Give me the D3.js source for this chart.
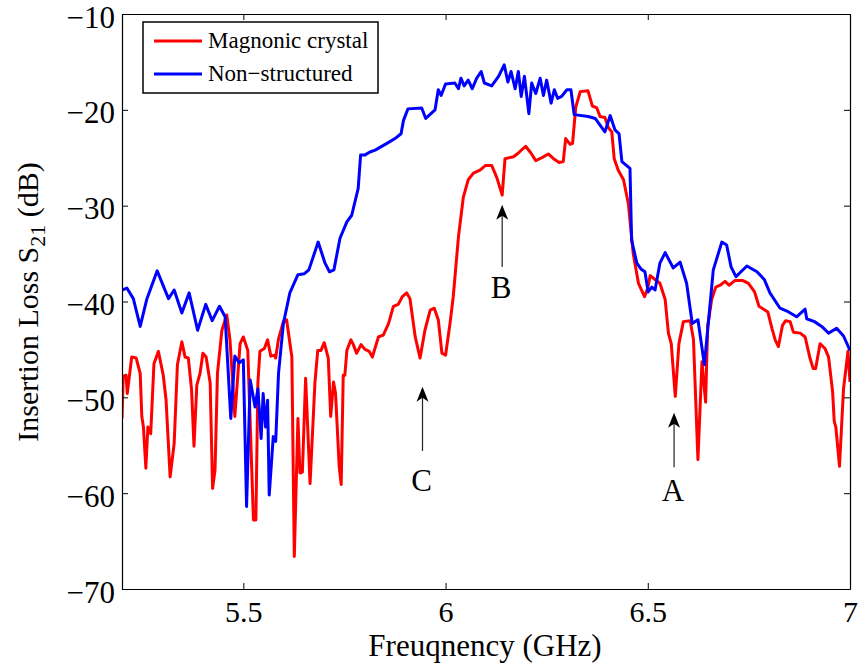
<!DOCTYPE html>
<html>
<head>
    <meta charset="utf-8">
    <title>Insertion Loss</title>
    <script src="https://d3js.org/d3.v7.min.js"></script>
    <style>
        body { margin: 0; background: #fff; }
        svg { display: block; font-family: "Liberation Serif", "Times New Roman", serif; }
    </style>
</head>
<body>
<div id="chart"></div>
<script type="text/javascript">
    // data: [frequency GHz, S21 dB]
    let magnonic = [
        [5.200,-52.2],[5.203,-47.8],[5.210,-47.7],[5.213,-49.6],[5.224,-45.8],[5.235,-45.9],[5.245,-47.5],[5.249,-52.0],
        [5.253,-53.1],[5.259,-57.4],[5.264,-53.1],[5.271,-53.8],[5.279,-46.5],[5.290,-45.2],[5.302,-47.7],[5.309,-50.3],
        [5.319,-58.3],[5.329,-54.8],[5.337,-46.6],[5.348,-44.2],[5.356,-45.8],[5.364,-45.9],[5.372,-49.2],[5.378,-55.1],
        [5.385,-48.7],[5.393,-47.5],[5.400,-45.4],[5.408,-45.8],[5.418,-48.5],[5.424,-59.5],[5.430,-57.6],[5.436,-47.5],
        [5.447,-43.0],[5.459,-41.4],[5.467,-44.0],[5.479,-52.0],[5.492,-44.4],[5.500,-43.7],[5.511,-45.1],[5.517,-52.7],
        [5.525,-62.8],[5.531,-62.8],[5.536,-48.5],[5.541,-45.2],[5.552,-44.9],[5.560,-44.0],[5.568,-45.7],[5.577,-45.6],
        [5.580,-45.9],[5.587,-43.9],[5.599,-42.1],[5.607,-41.9],[5.620,-45.8],[5.626,-66.6],[5.635,-52.2],[5.640,-57.9],
        [5.646,-57.8],[5.654,-48.0],[5.665,-59.0],[5.677,-48.5],[5.684,-45.1],[5.692,-45.1],[5.700,-44.3],[5.710,-45.9],
        [5.716,-52.0],[5.723,-48.4],[5.728,-49.6],[5.737,-57.2],[5.742,-59.1],[5.747,-47.7],[5.751,-47.7],[5.756,-45.1],
        [5.766,-44.0],[5.772,-44.5],[5.780,-45.4],[5.791,-44.5],[5.801,-45.0],[5.811,-45.2],[5.819,-45.8],[5.834,-43.7],
        [5.846,-43.5],[5.859,-42.3],[5.871,-40.5],[5.883,-40.3],[5.893,-39.5],[5.904,-39.1],[5.912,-39.7],[5.925,-43.7],
        [5.937,-45.9],[5.949,-43.0],[5.962,-40.9],[5.972,-40.7],[5.982,-41.9],[5.991,-45.4],[6.000,-45.6],[6.011,-42.3],
        [6.019,-39.5],[6.032,-33.2],[6.044,-29.1],[6.056,-27.3],[6.069,-26.6],[6.085,-26.3],[6.099,-25.8],[6.114,-25.8],
        [6.127,-27.1],[6.140,-28.9],[6.147,-25.1],[6.168,-24.9],[6.180,-24.5],[6.198,-23.8],[6.211,-24.5],[6.223,-25.3],
        [6.238,-25.0],[6.254,-24.6],[6.267,-25.1],[6.281,-25.5],[6.291,-25.4],[6.297,-23.0],[6.308,-23.6],[6.314,-23.5],
        [6.322,-19.7],[6.333,-18.1],[6.352,-18.0],[6.363,-19.6],[6.374,-19.8],[6.382,-20.7],[6.394,-20.8],[6.403,-21.9],
        [6.411,-22.3],[6.417,-25.1],[6.427,-26.3],[6.440,-27.3],[6.452,-29.8],[6.464,-35.0],[6.477,-38.1],[6.492,-39.5],
        [6.500,-38.6],[6.506,-37.3],[6.518,-37.7],[6.530,-38.1],[6.543,-39.8],[6.551,-43.3],[6.558,-44.4],[6.568,-49.9],
        [6.577,-44.4],[6.588,-42.1],[6.605,-42.0],[6.613,-44.0],[6.624,-56.5],[6.634,-46.3],[6.643,-50.5],[6.648,-42.6],
        [6.658,-39.8],[6.668,-38.5],[6.679,-38.3],[6.691,-37.9],[6.701,-38.3],[6.716,-37.8],[6.734,-37.8],[6.749,-38.1],
        [6.764,-39.0],[6.775,-40.5],[6.797,-41.1],[6.807,-42.8],[6.815,-44.0],[6.823,-44.7],[6.833,-42.5],[6.841,-42.0],
        [6.852,-42.1],[6.860,-43.2],[6.877,-43.3],[6.889,-43.7],[6.901,-45.9],[6.909,-47.0],[6.915,-47.0],[6.926,-44.4],
        [6.938,-44.9],[6.947,-45.8],[6.957,-49.4],[6.961,-52.5],[6.965,-53.1],[6.974,-57.2],[6.984,-49.1],[6.995,-45.2],
        [7.000,-48.4]
    ];

    let nonStructured = [
        [5.200,-38.8],[5.212,-38.6],[5.228,-39.7],[5.245,-42.6],[5.261,-39.8],[5.287,-36.8],[5.315,-39.7],[5.329,-38.8],
        [5.348,-41.2],[5.366,-39.1],[5.387,-43.0],[5.407,-40.3],[5.423,-42.0],[5.441,-40.5],[5.455,-41.6],[5.469,-52.2],
        [5.479,-45.7],[5.490,-46.4],[5.500,-46.1],[5.508,-61.4],[5.517,-48.2],[5.529,-51.0],[5.536,-49.1],[5.544,-54.3],
        [5.549,-49.6],[5.555,-53.1],[5.560,-50.3],[5.564,-60.2],[5.574,-54.1],[5.580,-54.6],[5.587,-47.5],[5.599,-42.3],
        [5.615,-39.1],[5.635,-37.2],[5.651,-37.1],[5.662,-36.7],[5.685,-33.8],[5.702,-36.0],[5.713,-36.9],[5.724,-36.7],
        [5.739,-33.4],[5.756,-31.7],[5.768,-31.0],[5.784,-28.2],[5.790,-24.7],[5.801,-24.7],[5.813,-24.4],[5.826,-24.2],
        [5.855,-23.5],[5.875,-23.0],[5.890,-22.5],[5.896,-21.1],[5.907,-19.9],[5.941,-19.8],[5.951,-20.9],[5.974,-20.0],
        [5.982,-17.9],[5.989,-18.5],[6.000,-17.3],[6.023,-17.2],[6.032,-17.8],[6.038,-16.7],[6.046,-17.5],[6.056,-16.9],
        [6.066,-17.8],[6.077,-16.7],[6.088,-16.0],[6.096,-17.2],[6.114,-17.5],[6.131,-16.5],[6.145,-15.3],[6.154,-17.1],
        [6.162,-16.0],[6.172,-17.8],[6.180,-16.0],[6.187,-18.6],[6.195,-16.5],[6.206,-20.4],[6.213,-17.2],[6.223,-18.3],
        [6.234,-16.7],[6.242,-18.5],[6.250,-16.9],[6.261,-19.3],[6.269,-17.9],[6.277,-18.8],[6.287,-18.6],[6.300,-17.9],
        [6.310,-17.9],[6.318,-20.5],[6.353,-20.7],[6.370,-20.9],[6.382,-21.6],[6.394,-22.3],[6.407,-20.6],[6.419,-22.1],
        [6.429,-22.5],[6.436,-25.4],[6.456,-26.1],[6.460,-33.6],[6.473,-36.0],[6.483,-36.6],[6.493,-36.9],[6.501,-39.0],
        [6.510,-38.5],[6.518,-38.8],[6.530,-36.0],[6.543,-34.9],[6.563,-36.5],[6.580,-35.9],[6.596,-38.1],[6.610,-42.3],
        [6.624,-41.9],[6.640,-46.6],[6.662,-36.7],[6.683,-33.8],[6.695,-34.1],[6.706,-36.4],[6.718,-37.4],[6.745,-36.3],
        [6.770,-36.9],[6.788,-37.7],[6.802,-39.1],[6.827,-40.7],[6.844,-41.0],[6.868,-41.6],[6.889,-40.8],[6.893,-41.8],
        [6.912,-42.1],[6.930,-42.6],[6.947,-43.3],[6.967,-42.8],[6.984,-43.6],[7.000,-45.1]
    ];

    let xTicks = [5.5, 6, 6.5, 7];
    let yTicks = [-70, -60, -50, -40, -30, -20, -10];

    // arrows: label, frequency, tip dB, tail dB, label dB
    let notes = [
        ["A", 6.565, -51.6, -57.3, -60.8],
        ["B", 6.140, -29.9, -36.4, -39.6],
        ["C", 5.943, -48.9, -55.6, -59.8]
    ];

    let margin = {top: 14, right: 10, bottom: 79, left: 122};
    let w = 860 - margin.left - margin.right;
    let h = 668 - margin.top - margin.bottom;

    let root = d3.select("#chart")
            .append("svg")
                .attr("width", 860)
                .attr("height", 668);

    let svg = root.append("g")
            .attr("transform", "translate(" + margin.left + "," + margin.top + ")");

    let xScale = d3.scaleLinear().domain([5.2, 7]).range([0, w]);
    let yScale = d3.scaleLinear().domain([-70, -10]).range([h, 0]);

    svg.append("clipPath").attr("id", "clip")
       .append("rect").attr("width", w).attr("height", h);

    let line = d3.line()
                 .x(function (d) { return xScale(d[0]); })
                 .y(function (d) { return yScale(d[1]); });

    let series = [
        {name: "Magnonic crystal", color: "#ff0000", data: magnonic},
        {name: "Non\u2212structured", color: "#0000ff", data: nonStructured}
    ];

    svg.append("g").attr("clip-path", "url(#clip)")
       .selectAll("path")
       .data(series)
       .enter()
       .append("path")
       .attr("d", function (d) { return line(d.data); })
       .attr("fill", "none")
       .attr("stroke", function (d) { return d.color; })
       .attr("stroke-width", 3)
       .attr("stroke-linejoin", "round");

    // axes, MATLAB-style box with inward ticks
    function styleAxis(g) {
        g.selectAll("path.domain").attr("stroke", "#000").attr("stroke-width", 1.2);
        g.selectAll(".tick line").attr("stroke", "#000");
        g.selectAll("text").attr("font-family", "Liberation Serif, Times New Roman, serif")
         .attr("font-size", 30).attr("fill", "#000");
    }

    svg.append("g")
       .attr("transform", "translate(0," + h + ")")
       .call(d3.axisBottom(xScale).tickValues(xTicks).tickFormat(d3.format("")).tickSizeInner(-6).tickSizeOuter(0).tickPadding(12))
       .call(styleAxis);

    svg.append("g")
       .call(d3.axisTop(xScale).tickValues(xTicks).tickFormat("").tickSizeInner(-6).tickSizeOuter(0))
       .call(styleAxis);

    svg.append("g")
       .attr("class", "yaxis")
       .call(d3.axisLeft(yScale).tickValues(yTicks).tickSizeInner(-6).tickSizeOuter(0).tickPadding(7))
       .call(styleAxis);

    svg.append("g")
       .attr("transform", "translate(" + w + ",0)")
       .call(d3.axisRight(yScale).tickValues(yTicks).tickFormat("").tickSizeInner(-6).tickSizeOuter(0))
       .call(styleAxis);

    svg.selectAll(".yaxis .tick text").attr("font-size", 31).attr("dy", "0.42em");

    // axis titles
    root.append("text")
        .attr("x", 485).attr("y", 656)
        .attr("text-anchor", "middle")
        .attr("font-size", 31)
        .text("Freuqnency (GHz)");

    let yl = root.append("text")
        .attr("transform", "translate(38,302) rotate(-90)")
        .attr("text-anchor", "middle")
        .attr("font-size", 30);
    yl.append("tspan").text("Insertion Loss S");
    yl.append("tspan").attr("font-size", 22).attr("dy", 7).text("21");
    yl.append("tspan").attr("dy", -7).text(" (dB)");

    // annotation arrows
    let ann = svg.selectAll("g.note")
       .data(notes)
       .enter()
       .append("g")
       .attr("class", "note");

    ann.append("line")
       .attr("x1", function (d) { return xScale(d[1]); })
       .attr("x2", function (d) { return xScale(d[1]); })
       .attr("y1", function (d) { return yScale(d[3]); })
       .attr("y2", function (d) { return yScale(d[2]) + 8; })
       .attr("stroke", "#222")
       .attr("stroke-width", 1.2);

    ann.append("path")
       .attr("transform", function (d) {
           return "translate(" + xScale(d[1]) + "," + yScale(d[2]) + ")";
       })
       .attr("d", "M0,0 L6,15 L0,11 L-6,15 Z")
       .attr("fill", "#000");

    ann.append("text")
       .attr("x", function (d) { return xScale(d[1]) - 1; })
       .attr("y", function (d) { return yScale(d[4]); })
       .attr("text-anchor", "middle")
       .attr("font-size", 31)
       .text(function (d) { return d[0]; });

    // legend
    let legend = root.append("g");
    legend.append("rect")
          .attr("x", 143).attr("y", 22)
          .attr("width", 235).attr("height", 71)
          .attr("fill", "#fff")
          .attr("stroke", "#000")
          .attr("stroke-width", 1.5);

    let items = legend.selectAll("g.item")
          .data(series)
          .enter()
          .append("g")
          .attr("transform", function (d, i) { return "translate(0," + (41 + i * 33) + ")"; });

    items.append("line")
         .attr("x1", 154).attr("x2", 202)
         .attr("stroke", function (d) { return d.color; })
         .attr("stroke-width", 3);

    items.append("text")
         .attr("x", 208).attr("y", 7)
         .attr("font-size", 23)
         .text(function (d) { return d.name; });
</script>
</body>
</html>
